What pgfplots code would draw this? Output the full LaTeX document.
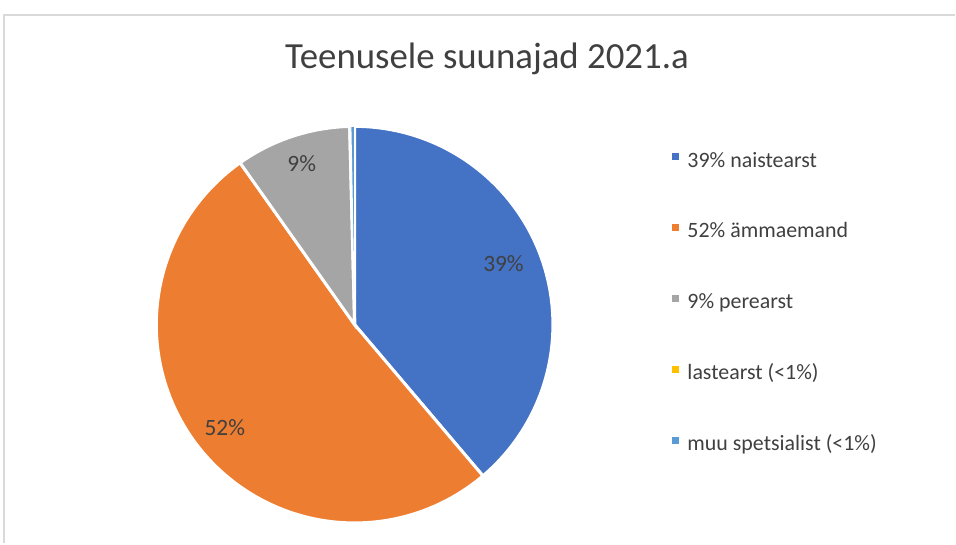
\documentclass[border=0pt]{standalone}
\usepackage{pgfplots}
\pgfplotsset{compat=1.18}
\usepackage{fontspec}
\setmainfont{Carlito}
\definecolor{cblue}{HTML}{4472C4}
\definecolor{corange}{HTML}{ED7D31}
\definecolor{cgray}{HTML}{A5A5A5}
\definecolor{cyellow}{HTML}{FFC000}
\definecolor{clblue}{HTML}{5B9BD5}
\definecolor{textgray}{HTML}{404040}
\definecolor{framegray}{HTML}{D9D9D9}
% shares (percent)
\def\vA{38.8}% naistearst
\def\vB{51.4}% ammaemand
\def\vC{9.4}%  perearst
\def\vD{0.1}%  lastearst
\def\vE{0.3}%  muu spetsialist
\pgfmathsetmacro{\aA}{90}
\pgfmathsetmacro{\aB}{\aA-3.6*\vA}
\pgfmathsetmacro{\aC}{\aB-3.6*\vB}
\pgfmathsetmacro{\aD}{\aC-3.6*\vC}
\pgfmathsetmacro{\aE}{\aD-3.6*\vD}
\pgfmathsetmacro{\aF}{\aE-3.6*\vE}
\def\cx{355}
\def\cy{219}
\def\rr{198.5}
\begin{document}
\begin{tikzpicture}
\begin{axis}[
  width=956bp, height=544bp, scale only axis,
  xmin=0, xmax=956, ymin=0, ymax=544,
  hide axis, clip=false,
  legend style={at={(axis cs:672,392)}, anchor=north west, draw=none, fill=none,
    font=\fontsize{22}{26}\selectfont, text=textgray,
    row sep=51bp, column sep=9bp, inner sep=0pt,
    nodes={inner sep=0pt, text height=15bp, text depth=5bp}},
  legend cell align=left,
  legend image code/.code={\fill[#1,draw=none] (0bp,2bp) rectangle (7bp,9bp);},
]
\fill[white] (axis cs:0,0) rectangle (axis cs:956,544);
\draw[framegray, line width=2bp] (axis cs:4,0) -- (axis cs:4,529) -- (axis cs:956,529);

\addplot[fill=cblue, draw=white, line width=3bp, domain=\aB:\aA, samples=120, variable=\t]
  ({\cx+\rr*cos(\t)}, {\cy+\rr*sin(\t)}) -- (axis cs:\cx,\cy) -- cycle;
\addlegendentry{39\% naistearst}
\addplot[fill=corange, draw=white, line width=3bp, domain=\aC:\aB, samples=160, variable=\t]
  ({\cx+\rr*cos(\t)}, {\cy+\rr*sin(\t)}) -- (axis cs:\cx,\cy) -- cycle;
\addlegendentry{52\% ämmaemand}
\addplot[fill=cgray, draw=white, line width=3bp, domain=\aD:\aC, samples=40, variable=\t]
  ({\cx+\rr*cos(\t)}, {\cy+\rr*sin(\t)}) -- (axis cs:\cx,\cy) -- cycle;
\addlegendentry{9\% perearst}
\addplot[fill=cyellow, draw=white, line width=3bp, domain=\aE:\aD, samples=3, variable=\t]
  ({\cx+\rr*cos(\t)}, {\cy+\rr*sin(\t)}) -- (axis cs:\cx,\cy) -- cycle;
\addlegendentry{lastearst (<1\%)}
\addplot[fill=clblue, draw=white, line width=1bp, domain=\aF:\aE, samples=3, variable=\t]
  ({\cx+\rr*cos(\t)}, {\cy+\rr*sin(\t)}) -- (axis cs:\cx,\cy) -- cycle;
\addlegendentry{muu spetsialist (<1\%)}

\node[anchor=base, text=textgray, font=\fontsize{37}{44}\selectfont] at (axis cs:487.5,475) {Teenusele suunajad 2021.a};
\node[anchor=base, text=textgray, font=\fontsize{23.5}{28}\selectfont] at (axis cs:504,272) {39\%};
\node[anchor=base, text=textgray, font=\fontsize{23.5}{28}\selectfont] at (axis cs:225,108) {52\%};
\node[anchor=base, text=textgray, font=\fontsize{23.5}{28}\selectfont] at (axis cs:302,372) {9\%};
\end{axis}
\end{tikzpicture}
\end{document}
